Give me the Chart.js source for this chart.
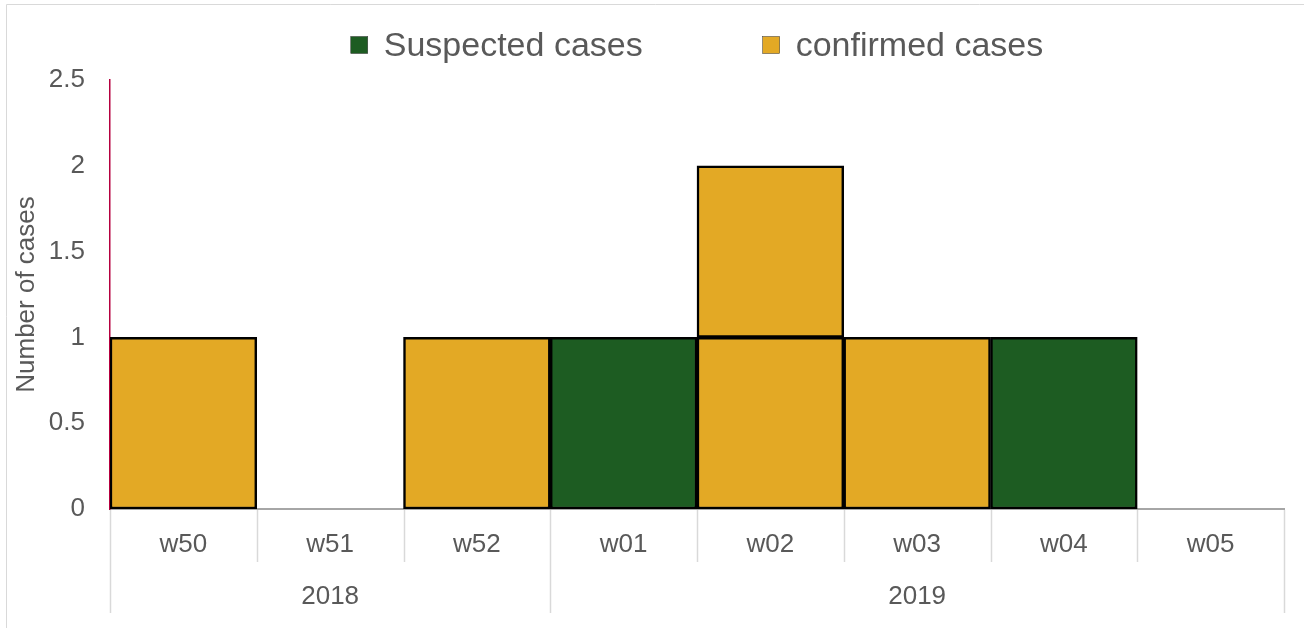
<!DOCTYPE html>
<html>
<head>
<meta charset="utf-8">
<script src="https://cdn.jsdelivr.net/npm/chart.js@4/dist/chart.umd.min.js"></script>
<style>
  html, body { margin: 0; padding: 0; background: #fff; }
  #wrap { width: 1304px; height: 628px; }
</style>
</head>
<body>
<div id="wrap"><canvas id="epiChart" width="1304" height="628"></canvas></div>
<script>
// weeks on the axis, and the years they belong to
const weeks = ['w50', 'w51', 'w52', 'w01', 'w02', 'w03', 'w04', 'w05'];
const years = ['2018', '2019'];
const weeksPerYear = [3, 5];

// one box per case
const suspected = [0, 0, 0, 1, 0, 0, 1, 0];
const confirmed = [1, 0, 1, 0, 1, 1, 0, 0];
const confirmedSecond = [0, 0, 0, 0, 1, 0, 0, 0];

const yTicks = [0, 0.5, 1, 1.5, 2, 2.5];

const GREEN = '#1d5c22';
const YELLOW = '#e3a925';
const TEXT = '#595959';
const FONT = "'Liberation Sans', Arial, sans-serif";

// empty weeks get no box at all
const boxes = arr => arr.map(v => (v ? v : null));

// frame, week separators and the year row
const axisBoxes = {
    id: 'axisBoxes',
    beforeDraw(chart) {
        const c = chart.ctx;
        c.save();
        c.strokeStyle = '#d9d9d9';
        c.lineWidth = 1;
        c.beginPath();
        c.moveTo(6.5, 628);
        c.lineTo(6.5, 4.5);
        c.lineTo(1304, 4.5);
        c.stroke();
        c.restore();
    },
    afterDraw(chart) {
        const c = chart.ctx;
        const x = chart.scales.x;
        const top = chart.chartArea.bottom;
        c.save();
        c.strokeStyle = '#d9d9d9';
        c.lineWidth = 1.5;
        const yearEdges = [0];
        weeksPerYear.forEach(n => yearEdges.push(yearEdges[yearEdges.length - 1] + n));
        for (let i = 0; i <= weeks.length; i++) {
            const px = Math.round(x.getPixelForValue(i - 0.5)) + 0.5;
            const long = yearEdges.includes(i);
            c.beginPath();
            c.moveTo(px, top + 1);
            c.lineTo(px, top + (long ? 104 : 53));
            c.stroke();
        }
        c.fillStyle = TEXT;
        c.font = '26px ' + FONT;
        c.textAlign = 'center';
        c.textBaseline = 'middle';
        years.forEach((yr, k) => {
            const a = x.getPixelForValue(yearEdges[k] - 0.5);
            const b = x.getPixelForValue(yearEdges[k + 1] - 0.5);
            c.fillText(yr, (a + b) / 2, top + 88);
        });
        c.restore();
    }
};

// legend drawn above the plot, first two datasets only
const topLegend = {
    id: 'topLegend',
    afterDraw(chart) {
        const c = chart.ctx;
        const items = chart.data.datasets.filter(d => !d.noLegend);
        c.save();
        c.font = '34px ' + FONT;
        c.textBaseline = 'middle';
        c.textAlign = 'left';
        const box = 17, gap = 16, spacing = 120;
        let total = 0;
        items.forEach((d, i) => {
            total += box + gap + c.measureText(d.label).width + (i ? spacing : 0);
        });
        const ca = chart.chartArea;
        let xPos = (ca.left + ca.right) / 2 - total / 2;
        const yMid = 45;
        items.forEach(d => {
            c.fillStyle = d.backgroundColor;
            c.fillRect(xPos, yMid - box / 2, box, box);
            c.strokeStyle = '#333';
            c.lineWidth = 0.5;
            c.strokeRect(xPos, yMid - box / 2, box, box);
            c.fillStyle = TEXT;
            c.fillText(d.label, xPos + box + gap, yMid + 2);
            xPos += box + gap + c.measureText(d.label).width + spacing;
        });
        c.restore();
    }
};

const ctx = document.getElementById('epiChart').getContext('2d');

new Chart(ctx, {
    type: 'bar',
    data: {
        labels: weeks,
        datasets: [{
            label: 'Suspected cases',
            data: boxes(suspected),
            backgroundColor: GREEN
        }, {
            label: 'confirmed cases',
            data: boxes(confirmed),
            backgroundColor: YELLOW
        }, {
            label: 'confirmed cases',
            noLegend: true,
            data: boxes(confirmedSecond),
            backgroundColor: YELLOW
        }]
    },
    options: {
        responsive: false,
        animation: false,
        devicePixelRatio: 1,
        layout: { padding: { top: 80, right: 20, bottom: 0, left: 6 } },
        datasets: {
            bar: {
                barPercentage: 1,
                categoryPercentage: 1,
                borderColor: '#000',
                borderWidth: 2.5,
                borderSkipped: false
            }
        },
        plugins: {
            legend: { display: false },
            tooltip: { enabled: false }
        },
        scales: {
            x: {
                stacked: true,
                grid: { display: false, drawTicks: false },
                border: { display: true, color: '#a6a6a6', width: 2 },
                ticks: {
                    color: TEXT,
                    font: { family: FONT, size: 26 },
                    padding: 20,
                    maxRotation: 0
                },
                afterFit(scale) { scale.height = 119; }
            },
            y: {
                stacked: true,
                min: 0,
                max: 2.5,
                afterBuildTicks(scale) { scale.ticks = yTicks.map(v => ({ value: v })); },
                grid: { display: false, drawTicks: false },
                border: { display: true, color: '#b5003f', width: 1.5 },
                ticks: {
                    color: TEXT,
                    font: { family: FONT, size: 26 },
                    padding: 25,
                    callback: v => String(v)
                },
                title: {
                    display: true,
                    text: 'Number of cases',
                    color: TEXT,
                    font: { family: FONT, size: 26 },
                    padding: { top: 5, bottom: 0 }
                },
                afterFit(scale) { scale.width = 104; }
            }
        }
    },
    plugins: [axisBoxes, topLegend]
});
</script>
</body>
</html>
